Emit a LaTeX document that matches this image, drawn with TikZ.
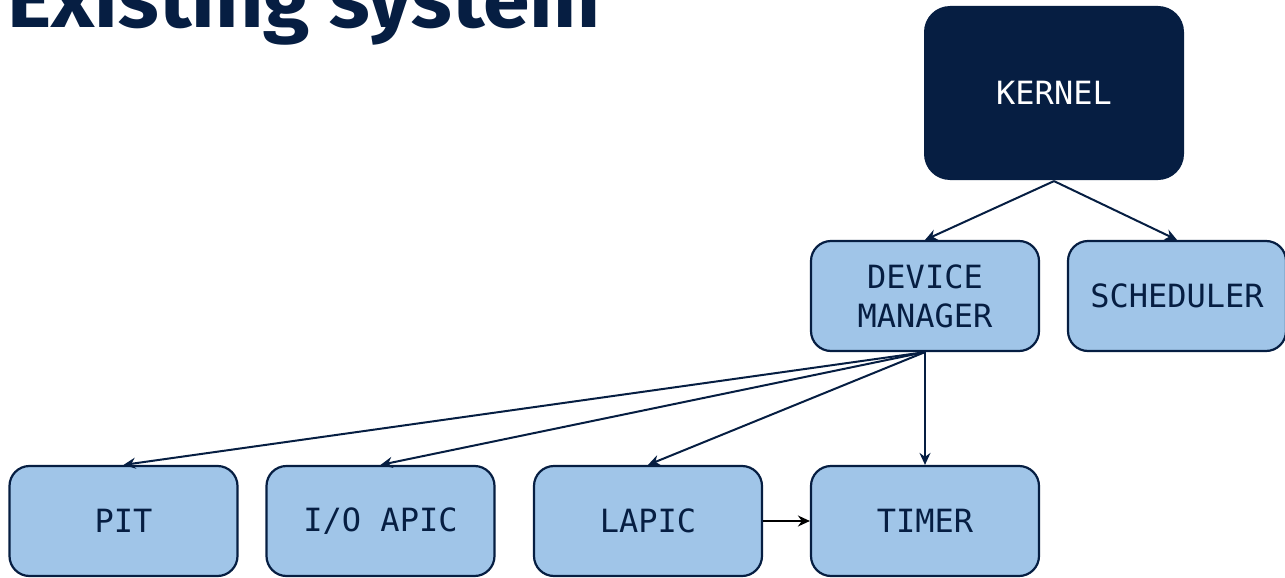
\documentclass[tikz,border=0pt]{standalone}
\usepackage{fontspec}
\usepackage{xcolor}
\setmonofont{DejaVu Sans Mono}
\newfontfamily\titlefont{Fira Sans}
\usetikzlibrary{arrows.meta}

\definecolor{navy}{HTML}{061E42}
\definecolor{paleblue}{HTML}{A0C5E8}

\begin{document}
\begin{tikzpicture}[
      x=1pt, y=-1pt,
      every node/.style={font=\ttfamily\fontsize{32}{39}\selectfont, text=navy, align=center},
      unit/.style={rectangle, rounded corners=20pt, draw=navy, line width=2.2pt, fill=paleblue,
                   minimum width=228pt, minimum height=110pt, inner sep=0pt},
      core/.style={unit, fill=navy, text=white, draw=none, rounded corners=26pt,
                   minimum width=260pt, minimum height=174pt},
      link/.style={draw=navy, line width=2pt, -{Stealth[length=12pt, width=11pt, inset=4pt]}}
    ]
    \clip (0,0) rectangle (1285,578);
    \useasboundingbox (0,0) rectangle (1285,578);
    \node[anchor=base west, font=\titlefont\bfseries\fontsize{80}{88}\selectfont, xscale=1.05] (title) at (4,28) {Existing system};
    \node[core] (kernel) at (1054,93) {KERNEL};
    \node[unit] (devmgr) at (925,296) {DEVICE\\MANAGER};
    \node[unit, minimum width=218pt] (sched) at (1177,296) {SCHEDULER};
    \node[unit] (pit) at (123.5,521) {PIT};
    \node[unit] (ioapic) at (380.5,521) {I/O APIC};
    \node[unit] (lapic) at (648,521) {LAPIC};
    \node[unit] (timer) at (925,521) {TIMER};
    \draw[link] (kernel.south) -- (devmgr.north);
    \draw[link] (kernel.south) -- (sched.north);
    \foreach \dev in {pit, ioapic, lapic, timer}
      \draw[link] (devmgr.south) -- (\dev.north);
    \draw[link, draw=black] (lapic.east) -- (timer.west);
    \end{tikzpicture}
\end{document}
